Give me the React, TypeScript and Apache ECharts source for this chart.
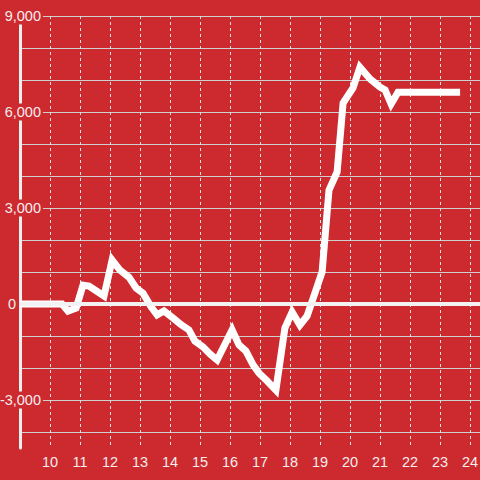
import React, { useEffect, useRef } from "react";
import * as echarts from "echarts";

// hour of day (x) and value (y)
const times = [
  9.0, 10.4, 10.6, 10.87, 11.1, 11.3, 11.8, 12.07, 12.33, 12.63, 12.87, 13.1,
  13.37, 13.57, 13.8, 14.1, 14.37, 14.63, 14.83, 15.1, 15.33, 15.57, 16.07,
  16.3, 16.53, 16.77, 16.97, 17.23, 17.53, 17.83, 18.07, 18.33, 18.57, 18.83,
  19.07, 19.3, 19.57, 19.77, 20.1, 20.33, 20.67, 21.0, 21.17, 21.37, 21.6, 23.67,
];
const values = [
  0, 0, -220, -125, 590, 560, 250, 1375, 1060, 840, 500, 340,
  -90, -340, -220, -440, -650, -810, -1160, -1340, -1560, -1750, -810,
  -1280, -1470, -1900, -2160, -2400, -2690, -750, -250, -660, -375, 340,
  1000, 3560, 4125, 6280, 6750, 7400, 7030, 6780, 6690, 6250, 6620, 6620,
];
const xTickLabels = [10, 11, 12, 13, 14, 15, 16, 17, 18, 19, 20, 21, 22, 23, 24];
const yTickLabels = [-3000, 0, 3000, 6000, 9000];

const BG = "#cd2a2f";
const TXT = "#f4eeee";
const FONT = "'Liberation Sans', Arial, sans-serif";

function fmt(v: number): string {
  const s = Math.abs(v).toString().replace(/\B(?=(\d{3})+(?!\d))/g, ",");
  return (v < 0 ? "-" : "") + s;
}

export default function App() {
  const ref = useRef<HTMLDivElement>(null);
  useEffect(() => {
    if (!ref.current) return;
    const chart = echarts.init(ref.current, undefined, { renderer: "svg" });
    const data = times.map((t, i) => [t, values[i]]);
    const yCommon = {
      type: "value",
      min: -4500,
      max: 9000,
      interval: 500,
      position: "left",
      offset: 0,
    };
    chart.setOption({
      animation: false,
      backgroundColor: BG,
      grid: {
        left: 20,
        right: 0,
        top: 16,
        bottom: 32,
        containLabel: false,
        outerBoundsMode: "none",
      },
      xAxis: {
        type: "value",
        min: 9,
        max: 9 + 460 / 30,
        interval: 1,
        axisLine: { show: false },
        axisTick: { show: false },
        axisLabel: {
          color: TXT,
          fontFamily: FONT,
          fontSize: 14.5,
          margin: 6,
          formatter: (v: number) => (xTickLabels.includes(v) ? String(v) : ""),
        },
        splitLine: {
          show: true,
          showMinLine: false,
          showMaxLine: false,
          lineStyle: { color: "#e2e2e2", width: 1, type: [3, 3] },
        },
      },
      yAxis: [
        {
          ...yCommon,
          z: 0,
          axisLine: { show: false },
          axisTick: { show: false },
          axisLabel: { show: false },
          splitLine: {
            show: true,
            lineStyle: { color: ["transparent", "#cfcfcf"], width: 1 },
          },
        },
        {
          ...yCommon,
          z: 1,
          axisLine: { show: true, lineStyle: { color: "#eeeeee", width: 3 } },
          axisTick: { show: false },
          splitLine: { show: false },
          axisLabel: {
            show: true,
            align: "right",
            margin: -23,
            color: TXT,
            fontFamily: FONT,
            fontSize: 14.5,
            formatter: (v: number) => {
              if (!yTickLabels.includes(v)) return "";
              if (v === 0) return "{z|0}";
              return "{a|" + fmt(v) + "}";
            },
            rich: {
              a: {
                color: TXT,
                fontFamily: FONT,
                fontSize: 14.5,
                backgroundColor: BG,
                padding: [1, 2, 1, 0],
                lineHeight: 16,
              },
              z: {
                color: TXT,
                fontFamily: FONT,
                fontSize: 14.5,
                padding: [0, 27, 0, 0],
              },
            },
          },
        },
      ],
      series: [
        {
          type: "line",
          yAxisIndex: 0,
          data,
          showSymbol: false,
          symbol: "none",
          z: 3,
          lineStyle: { color: "#ffffff", width: 7, join: "miter" },
          markLine: {
            silent: true,
            symbol: ["none", "none"],
            label: { show: false },
            lineStyle: { color: "#f2f2f2", width: 4, type: "solid" },
            data: [{ yAxis: 0 }],
          },
        },
      ],
    });
    return () => chart.dispose();
  }, []);
  return (
    <div
      ref={ref}
      style={{ position: "fixed", left: 0, top: 0, width: 480, height: 480 }}
    />
  );
}
